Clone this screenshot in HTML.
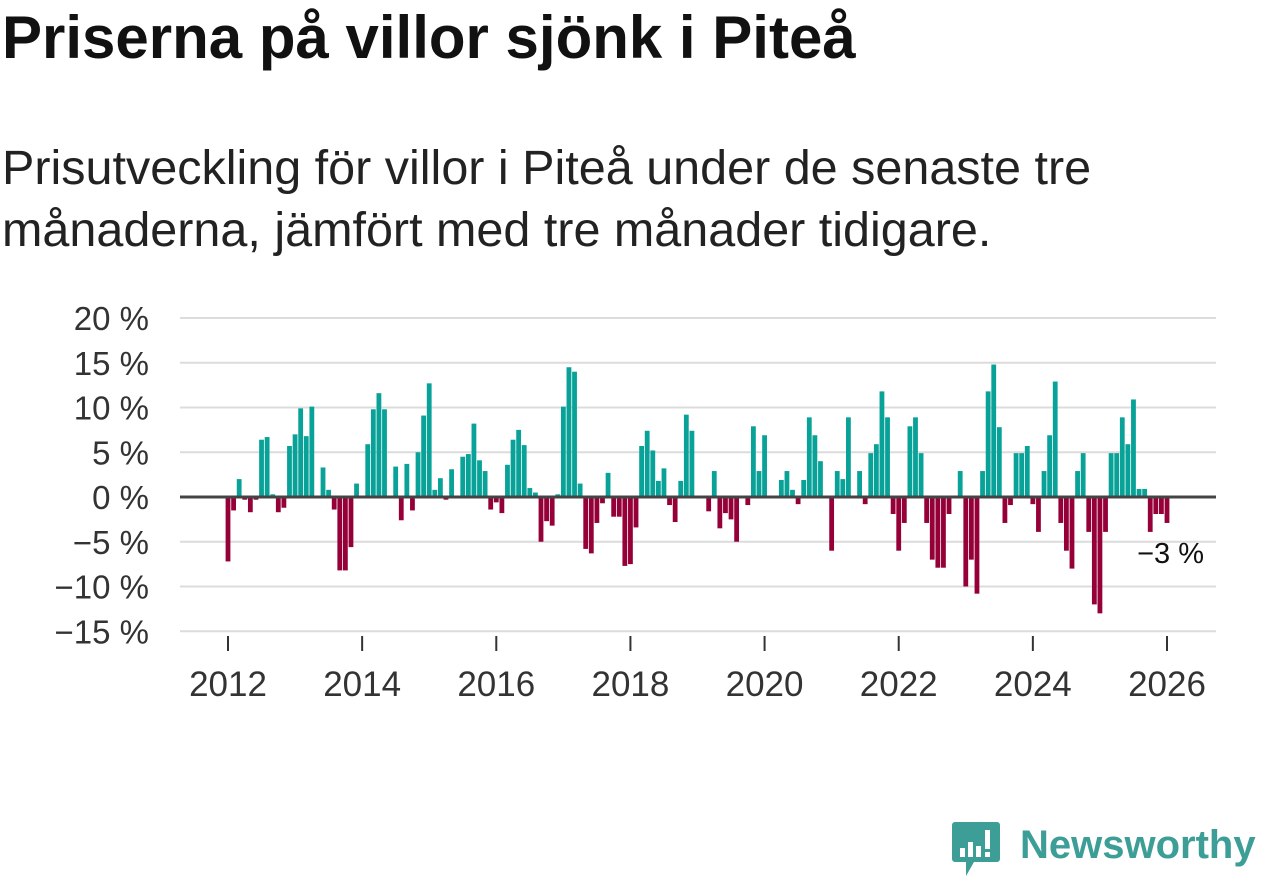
<!DOCTYPE html>
<html><head><meta charset="utf-8">
<style>
body{margin:0;background:#fff;width:1262px;height:879px;overflow:hidden;font-family:"Liberation Sans","DejaVu Sans",sans-serif;}
h1{position:absolute;left:2px;top:3px;margin:0;font-size:60px;font-weight:bold;color:#111;white-space:nowrap}
p.sub{position:absolute;left:2px;top:137px;margin:0;font-size:48.5px;line-height:62px;color:#222;width:1260px;white-space:nowrap}
svg{position:absolute;left:0;top:0}
</style></head><body>
<h1>Priserna på villor sjönk i Piteå</h1>
<p class="sub">Prisutveckling för villor i Piteå under de senaste tre<br>månaderna, jämfört med tre månader tidigare.</p>
<svg id="chart" width="1262" height="879"></svg>
<div style="position:absolute;left:952px;top:820px;width:310px;height:58px">
<svg width="50" height="58" style="position:absolute;left:0;top:0"><path d="M3 2h42a3 3 0 0 1 3 3v34a3 3 0 0 1-3 3H22l-8 14v-14H3a3 3 0 0 1-3-3V5a3 3 0 0 1 3-3z" fill="#3d9e98"/><rect x="8" y="28" width="5" height="9" fill="#fff"/><rect x="16" y="22" width="5" height="15" fill="#fff"/><rect x="24" y="26" width="5" height="11" fill="#fff"/><rect x="33" y="10" width="5" height="19" fill="#fff"/><rect x="33" y="32" width="5" height="5" fill="#fff"/></svg>
<span style="position:absolute;left:68px;top:2px;font-size:40px;font-weight:bold;color:#3d9e98;line-height:46px">Newsworthy</span>
</div>
<script>
const values=[-7.2,-1.5,2,-0.3,-1.7,-0.3,6.4,6.7,0.3,-1.7,-1.2,5.7,
7,9.9,6.8,10.1,0,3.3,0.8,-1.4,-8.2,-8.2,-5.6,1.5,
0,5.9,9.8,11.6,9.8,0,3.4,-2.6,3.7,-1.5,5,9.1,
12.7,0.8,2.1,-0.3,3.1,0,4.5,4.8,8.2,4.1,2.9,-1.4,
-0.6,-1.8,3.6,6.4,7.5,5.8,1,0.5,-5,-2.7,-3.2,0.3,
10.1,14.5,14,1.5,-5.8,-6.3,-2.9,-0.7,2.7,-2.2,-2.2,-7.7,
-7.5,-3.4,5.7,7.4,5.2,1.8,3.2,-0.9,-2.8,1.8,9.2,7.4,
0,0,-1.6,2.9,-3.5,-1.8,-2.5,-5,0,-0.9,7.9,2.9,
6.9,0,0,1.9,2.9,0.8,-0.8,1.9,8.9,6.9,4,0,
-6,2.9,2,8.9,0,2.9,-0.8,4.9,5.9,11.8,8.9,-1.9,
-6,-2.9,7.9,8.9,4.9,-2.9,-7,-7.9,-7.9,-1.9,0,2.9,
-10,-7,-10.8,2.9,11.8,14.8,7.8,-2.9,-0.9,4.9,4.9,5.7,
-0.8,-3.9,2.9,6.9,12.9,-2.9,-6,-8,2.9,4.9,-3.9,-12,
-13,-3.9,4.9,4.9,8.9,5.9,10.9,0.9,0.9,-3.9,-1.9,-1.9,
-2.9];
const startYear=2012;
const yTicks=[20,15,10,5,0,-5,-10,-15];
const yTickLabels=["20 %","15 %","10 %","5 %","0 %","−5 %","−10 %","−15 %"];
const xTicks=[2012,2014,2016,2018,2020,2022,2024,2026];
const lastLabel="−3 %";
const NS="http://www.w3.org/2000/svg";
const svg=document.getElementById('chart');
const y=v=>497-v*8.95;
const x=m=>228+m*(1167-228)/168;
function mk(t,a){const e=document.createElementNS(NS,t);for(const k in a)e.setAttribute(k,a[k]);svg.appendChild(e);return e;}
yTicks.forEach((v,i)=>{
 if(v!==0){const g=mk('line',{x1:180,x2:1216,y1:y(v),y2:y(v),stroke:'#dcdcdc','stroke-width':2});
 
 }
 const t=mk('text',{x:149,y:y(v)+12,'text-anchor':'end','font-size':33,fill:'#333'});
 t.textContent=yTickLabels[i];
 
 
});
values.forEach((v,i)=>{
 const cx=x(i);const h=Math.abs(v)*8.95;
 const r=mk('rect',{x:cx-2.4,y:v>=0?y(v):y(0),width:4.8,height:h,fill:v>=0?'#08a298':'#960039'});
 
 
});
const z=mk('line',{x1:180,x2:1216,y1:y(0),y2:y(0),stroke:'#444','stroke-width':3});


xTicks.forEach(yr=>{
 const px=x((yr-startYear)*12);
 const tk=mk('line',{x1:px,x2:px,y1:636,y2:651,stroke:'#333','stroke-width':2});
 
 
 const t=mk('text',{x:px,y:696,'text-anchor':'middle','font-size':35,fill:'#333'});
 t.textContent=yr;
 
 
});
const lt=mk('text',{x:1204,y:563,'text-anchor':'end','font-size':29,fill:'#111'});
lt.textContent=lastLabel;


</script>
</body></html>
